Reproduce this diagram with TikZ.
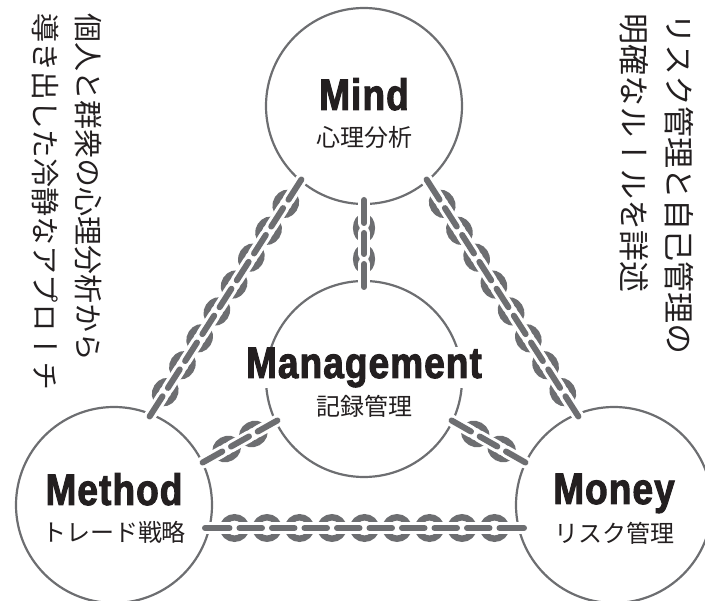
\documentclass[tikz,border=0pt]{standalone}
\usepackage{fontspec}
\setmainfont{Liberation Sans}
\newfontfamily\titlefont[FakeStretch=0.84,FakeBold=2.2,LetterSpace=2.5]{Liberation Sans}
\newfontfamily\jpfont{Noto Sans CJK JP}
\newfontfamily\jpvert[Vertical=RotatedGlyphs]{Noto Sans CJK JP}
\usetikzlibrary{positioning,calc}

\definecolor{linkgray}{HTML}{6D6E71}
\definecolor{inkblack}{HTML}{231F20}

\tikzset{
  circ/.style={circle, draw=linkgray, line width=2.2pt, minimum size=196pt, inner sep=0pt},
  title/.style={font=\titlefont\bfseries\fontsize{44}{44}\selectfont, text=inkblack, fill=white, inner sep=1pt, anchor=base},
  subtitle/.style={font=\jpfont\fontsize{24}{24}\selectfont, text=inkblack, inner sep=0pt},
  vtext/.style={font=\jpvert\fontsize{29}{29}\selectfont, text=inkblack, rotate=-90, anchor=west, inner sep=0pt},
  chainring/.style={draw=linkgray, line width=6.5pt},
  chainbar/.style={draw=linkgray, line width=6pt, line cap=round},
  chaingap/.style={draw=white, line width=12pt, line cap=round},
}

% chain from #1 to #2 with #3 rings, ring half width #4
\newcommand{\drawchain}[4]{%
  \pgfmathanglebetweenpoints{\pgfpointanchor{#1}{center}}{\pgfpointanchor{#2}{center}}%
  \let\chainangle\pgfmathresult
  \pgfmathtruncatemacro\nbars{#3+1}%
  \foreach \k in {1,...,#3} {
    \pgfmathsetmacro\tk{\k/\nbars}
    \draw[chainring] ($(#1)!\tk!(#2)$) circle[x radius=11.5pt, y radius=#4, rotate=\chainangle];
  }
  \foreach \s in {chaingap,chainbar}
    \foreach \k in {1,...,\nbars} {
      \pgfmathsetmacro\ta{(\k-1)/\nbars}
      \pgfmathsetmacro\tb{\k/\nbars}
      \pgfmathsetmacro\sa{\k==1 ? 3 : 5}
      \pgfmathsetmacro\sb{\k==\nbars ? 3 : 5}
      \draw[\s, shorten <=\sa pt, shorten >=\sb pt] ($(#1)!\ta!(#2)$) -- ($(#1)!\tb!(#2)$);
    }
}

\begin{document}
\begin{tikzpicture}[x=1pt, y=-1pt]

    \useasboundingbox (0,0) rectangle (705,601);

    \node[circ] (mind) at (364,106) {};
    \node[circ] (mgmt) at (364,379) {};
    \node[circ] (method) at (114,505) {};
    \node[circ] (money) at (614,505) {};

    % chain ends
    \coordinate (mindL) at (303,177);
    \coordinate (methodT) at (148,419);
    \coordinate (mindR) at (425,177);
    \coordinate (moneyT) at (580,419);
    \coordinate (mindB) at (364,197);
    \coordinate (mgmtT) at (364,290);
    \coordinate (mgmtL) at (280,419);
    \coordinate (methodR) at (200,464);
    \coordinate (mgmtR) at (449,419);
    \coordinate (moneyL) at (528,464);
    \coordinate (methodB) at (202,528);
    \coordinate (moneyB) at (527,528);

    \drawchain{mindL}{methodT}{8}{9.5pt}
    \drawchain{mindR}{moneyT}{8}{9.5pt}
    \drawchain{mindB}{mgmtT}{2}{7.8pt}
    \drawchain{mgmtL}{methodR}{2}{9.5pt}
    \drawchain{mgmtR}{moneyL}{2}{9.5pt}
    \drawchain{methodB}{moneyB}{9}{10.7pt}

    \node[title] (mindtitle) at (364,110) {Mind};
    \node[subtitle] (mindsub) at (364,137) {心理分析};
    \node[title] (mgmttitle) at (364,378) {Management};
    \node[subtitle] (mgmtsub) at (364,406) {記録管理};
    \node[title] (methodtitle) at (114,505) {Method};
    \node[subtitle] (methodsub) at (114,532) {トレード戦略};
    \node[title] (moneytitle) at (614,504) {Money};
    \node[subtitle] (moneysub) at (614,533) {リスク管理};

    \node[vtext] (leftA) at (88,13) {個人と群衆の心理分析から};
    \node[vtext] (leftB) at (46,13) {導き出した冷静なアプローチ};
    \node[vtext, font=\jpvert\fontsize{31}{31}\selectfont] (rightA) at (679,13) {リスク管理と自己管理の};
    \node[vtext, font=\jpvert\fontsize{31}{31}\selectfont] (rightB) at (634,13) {明確なルールを詳述};

\end{tikzpicture}
\end{document}
